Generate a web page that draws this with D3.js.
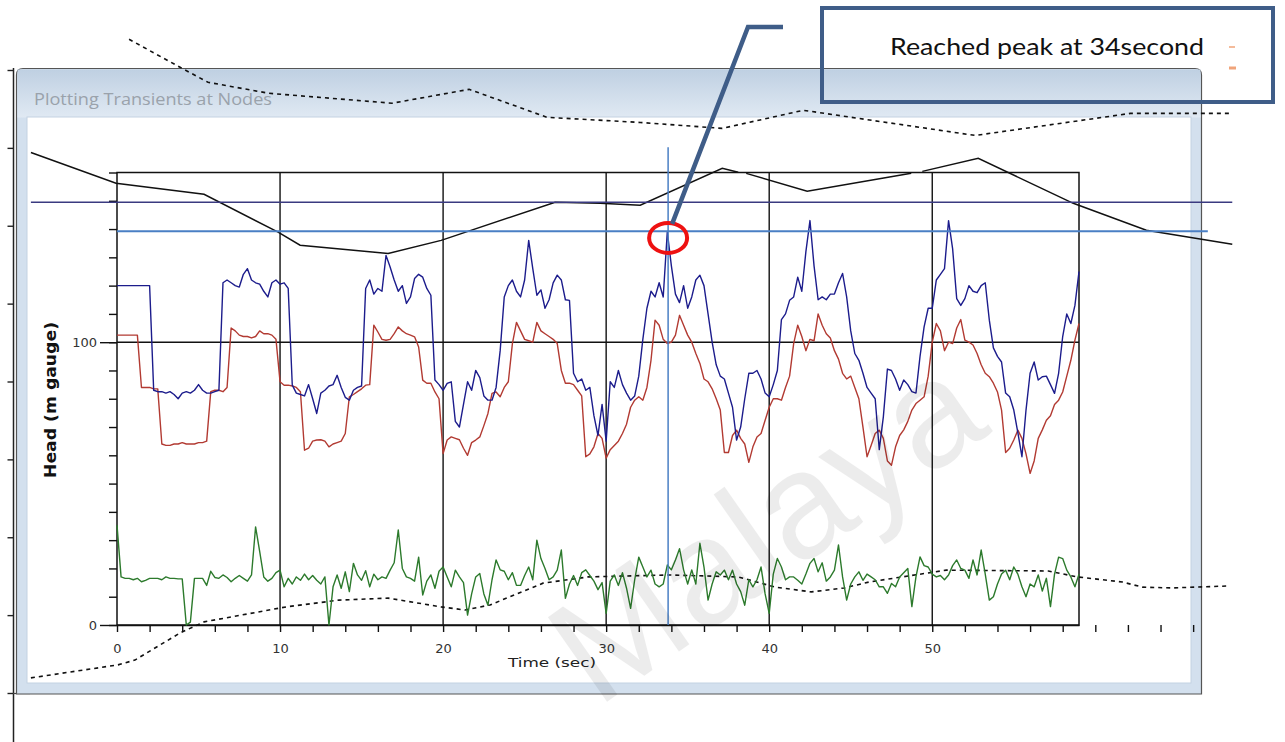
<!DOCTYPE html>
<html>
<head>
<meta charset="utf-8">
<script src="https://cdn.jsdelivr.net/npm/d3@7"></script>
<style>
  body { margin: 0; background: #ffffff; }
  svg { display: block; }
</style>
</head>
<body>
<svg id="chart" width="1285" height="742"></svg>
<script>
// ---- recorded heads (m gauge), one sample every 0.25 s from t = 0 ----
const sampleStep = 0.25;

const headBlue = [
  120,120,120,120, 120,120,120,120, 120,83,82.5,82.5, 82,82.5,81.5,80,
  82,82.5,82,83, 85,83,82,82, 82.5,83,121,122, 121,120,119.5,124,
  126,122,121,120.5, 118,116,121,122, 120.5,121,119,84.8, 82,81.5,81,85,
  80,74.8,82,83, 84.5,85,88.3,84, 80.5,79.5,83,84, 84.5,119,122,117,
  119,118,130.7,126.6, 122,118,120,113.7, 116,122.5,124,123, 119,116.6,86.6,85,
  83,85.4,86,72, 70,78,86,83, 90,87.5,81,79.5, 79.5,84,97,116,
  120,122,118,116, 122,136,126,116.6, 118.5,112,115,121, 123.7,122,115,114.8,
  89,86,87,83, 84,74,67,78, 65,86,84,90, 85,82,79.5,81,
  88,101,112,118, 116,121,116,139, 127,117,114,120, 112,116,122,123.7,
  120,110,100,92, 88,87,82,77, 65.4,70,80,89, 89,90,87,82,
  80.7,85,90,108, 110,114.8,116,123, 118,132,143,127, 115,116,115,117,
  117,121,124.3,116, 104,96,93.6,89, 84,82,80,62, 73.6,90.5,90,87,
  83,86.6,85,82.5, 82,95,105.4,112, 112,122,124,126, 143,133,115.4,113,
  115.4,120,118,117.5, 120,121,107.8,98, 95,93,82,80.7, 76,68,59.5,76,
  89,93,86.6,87.8, 88,85,81.9,89, 102,110,106.6,113, 125
];

const headRed = [
  102.5,102.5,102.5,102.5, 102.5,102.5,84,84, 84,83.5,83.5,64, 63.5,63.5,64,64,
  64.5,64,64,64, 64.5,64.5,65,82.5, 83,83,82.5,84, 105,104,102.5,102,
  102,101.5,102,104, 103,103,102.5,101, 86,84.8,84.8,84.5, 84,82.5,61.8,62.5,
  65,65.4,65.5,65, 63,64,64.5,65, 67.7,80.7,81.5,82.5, 83.5,84.8,85,106,
  103.6,101,100.7,101, 103,105.4,104,103, 102.5,101.9,98.3,86.6, 85.5,85.5,82.4,80,
  60.6,65.4,66.5,66, 65.5,62.5,60,64.5, 65.4,66.5,70.5,74.8, 81.9,82.4,80.7,84,
  86,99.5,107,104, 101,100.5,100,107, 104,103,102,101, 99.5,90,85.5,85.5,
  85,83,81,59.5, 60.5,63,67.7,66, 59,62,63.5,65, 67.7,71,77,79.5,
  80.7,79.5,84,93.6, 107.8,106,101,99.5, 100,102.5,109.5,106, 102.5,100,96,92.5,
  87,86,83.5,80, 76,61,61,67, 68.9,66,64,57.5, 63,66.5,67.7,72.4,
  77,80,80,79.5, 84,88,99.5,106, 102,97,101,100.5, 110,106,103,101.5,
  97,94,89,87, 88,84,80,70, 59.5,63.5,67.7,68.9, 66,58,56.5,63,
  67,69,72,76, 78.3,79.5,80.7,88, 100,106.6,104,97, 100,99.5,105,108,
  100.7,100,99,96, 92,89,87.8,85.5, 82.4,76,61,62.5, 65.4,68.9,66,60.5,
  53.6,58,66,69, 72.4,74,78,79.5, 82.4,88,93.6,100.7, 106.6
];

const headGreen = [
  35.3,17,16.5,16.5, 16,16.5,15.3,15.8, 16.5,16.5,16.5,16, 17,16.5,16.5,16.3,
  16.3,0,1,16.5, 16.5,16.5,14,19, 16.8,16.5,17.7,16.8, 15.3,16.5,17.5,16.5,
  15.5,17.7,34.7,26, 17,15.5,16.5,18.5, 19.4,13.5,16.5,14.5, 17,15.8,18,16,
  17.5,15.8,14.5,17, 0,13.5,17.7,13, 18.8,11.8,21.8,17.7, 15.8,19.2,13.5,18,
  16,17,16.5,19.4, 22,33.6,20,17, 16.5,15.5,24,10.6, 15.5,17.7,13,19,
  20.5,17,13.5,19.4, 17,15,3.5,11, 17,18.2,11,7, 16,23,19.5,19,
  16,18.5,14,14, 17.5,20.5,16,30, 23.5,20,16,17, 19.4,26.5,9.4,14.5,
  17.5,14,18.5,19.5, 17.5,15.5,12.5,15, 4.1,15.5,17.7,14, 18.5,13,5.9,16,
  24,20.5,17,19.4, 14.5,13.5,14.5,21.2, 19.5,23,27,19.5, 14.5,19.5,14.5,28.9,
  20.5,8.8,14.5,18.8, 17.7,19.4,16,19.4, 14.5,11.8,7,16, 13.5,16,20.5,11,
  4.1,18,23.5,20.5, 16,17,17,15.8, 14.5,18,21.8,23.5, 18.8,22,15.5,17,
  19.4,28.3,17,8.8, 14.5,17,18.8,15.8, 18,17,16,13.5, 13.5,11.2,14.7,13.5,
  17,18.5,20,6.5, 17,24.1,21,20.5, 18,17,17.5,16, 17.7,21,23,20,
  19.4,16.5,23,17.7, 26.5,18,8.8,10, 14.5,18,19.4,16, 20.5,18,13.5,10,
  14.5,13.5,17.7,12, 16.5,6.5,18,24, 23.5,19.4,17,13.5, 18
];

// ---- axis ticks and labels ----
const xTickValues = d3.range(0, 67, 2);
const xTickLabels = [0, 10, 20, 30, 40, 50];
const yMinorTicks = d3.range(0, 161, 10);
const yTickLabels = [0, 100];

// ---- background traces from the neighbouring window, in (s, m) ----
const traceSolid = [
  [-5.28,167.1],[-0.06,156.2],[5.34,152.3],[9.88,138.9],[11.23,134.3],[16.63,131.4],
  [19.88,136.0],[26.87,149.5],[29.63,149.1],[32.09,148.4],[37.12,161.5],[38.1,160.1],
  null,
  [38.59,159.7],[42.33,153.4],[48.71,159.7],
  null,
  [49.39,160.4],[52.82,165.0],[58.65,149.1],[63.13,139.6],[68.4,134.6]
];
const traceDashUpper = [
  [0.74,207.1],[3.87,197.2],[5.58,191.9],[9.33,188.0],[16.87,184.5],[21.6,189.4],
  [26.38,179.5],[32.09,177.7],[37.12,175.6],[42.09,182.0],[52.64,173.1],[62.15,180.9],[68.4,180.9]
];
const traceDashLower = [
  [-5.28,-18.7],[0.06,-14.1],[1.1,-12.4],[3.87,-2.8],[5.34,1.1],[10.37,6.4],[13.62,8.8],
  [16.63,9.5],[19.88,6.4],[21.35,5.3],[22.88,7.1],[26.13,14.8],[28.9,17.0],[33.87,17.7],
  [38.1,17.0],[40.37,13.4],[42.58,11.7],[44.6,13.1],[46.13,15.2],[50.86,19.4],[57.12,19.1],
  [58.9,17.0],[61.66,15.2],[62.88,13.4],[64.66,13.1],[68.16,13.8]
];
const levelNavy = 149.5;      // upper reference level
const levelPeak = 139.2;      // peak head marker level
const peakTime = 33.8;        // time of the marked peak (s)
const peakHead = 139;

const svg = d3.select("#chart");

// plot scales
const x = d3.scaleLinear().domain([0, 59]).range([117, 1079]);
const y = d3.scaleLinear().domain([0, 160]).range([625, 172.5]);

// ---- stray axis along the left edge ----
const edge = svg.append("g");
edge.append("line").attr("x1", 13.5).attr("x2", 13.5).attr("y1", 68).attr("y2", 742)
  .attr("stroke", "#222").attr("stroke-width", 1.5);
const edgeScale = d3.scaleLinear().domain([0, 8]).range([693, 70]);
edge.append("g").attr("transform", "translate(13.5,0)")
  .call(d3.axisLeft(edgeScale).tickValues(d3.range(0, 9)).tickSize(6).tickSizeOuter(0).tickFormat(""))
  .call(g => g.select(".domain").remove())
  .call(g => g.selectAll("line").attr("stroke", "#222").attr("stroke-width", 1.4));
edge.append("line").attr("x1", 13).attr("x2", 30).attr("y1", 693.5).attr("y2", 693.5)
  .attr("stroke", "#444").attr("stroke-width", 1.2);

// ---- window frame ----
const defs = svg.append("defs");
const grad = defs.append("linearGradient").attr("id", "titleGrad")
  .attr("x1", 0).attr("y1", 0).attr("x2", 0).attr("y2", 1);
grad.append("stop").attr("offset", "0%").attr("stop-color", "#bfd0e2");
grad.append("stop").attr("offset", "100%").attr("stop-color", "#e0e9f3");

const frame = svg.append("g");
frame.append("path")
  .attr("d", "M16.5,694 L16.5,75 Q16.5,68.5 23,68.5 L1195,68.5 Q1201.5,68.5 1201.5,75 L1201.5,694 Z")
  .attr("fill", "#d3e0ee").attr("stroke", "#555").attr("stroke-width", 1.2);
frame.append("rect").attr("x", 17.5).attr("y", 69.5).attr("width", 1183).attr("height", 48)
  .attr("fill", "url(#titleGrad)");
frame.append("rect").attr("x", 27).attr("y", 117).attr("width", 1164).attr("height", 566)
  .attr("fill", "#ffffff").attr("stroke", "#c3d2e2").attr("stroke-width", 1);
frame.append("text").attr("x", 34).attr("y", 105)
  .attr("font-family", "'Open Sans', sans-serif").attr("font-size", 16.5)
  .attr("fill", "#9aa2ab").attr("textLength", 238).attr("lengthAdjust", "spacingAndGlyphs")
  .text("Plotting Transients at Nodes");

// ---- plot box and grid ----
const plot = svg.append("g");
plot.append("rect")
  .attr("x", x(0)).attr("y", y(160)).attr("width", x(59) - x(0)).attr("height", y(0) - y(160))
  .attr("fill", "none").attr("stroke", "#111").attr("stroke-width", 1.5);
plot.append("g").selectAll("line").data([10, 20, 30, 40, 50]).join("line")
  .attr("x1", d => x(d)).attr("x2", d => x(d)).attr("y1", y(0)).attr("y2", y(160))
  .attr("stroke", "#111").attr("stroke-width", 1.4);
plot.append("line").attr("x1", x(0)).attr("x2", x(59)).attr("y1", y(100)).attr("y2", y(100))
  .attr("stroke", "#111").attr("stroke-width", 1.4);

// x axis
plot.append("g").attr("transform", `translate(0,${y(0)})`)
  .call(d3.axisBottom(x).tickValues(xTickValues).tickSize(7).tickSizeOuter(0).tickPadding(12)
    .tickFormat(d => xTickLabels.includes(d) ? d : ""))
  .call(g => g.select(".domain").attr("stroke", "#111").attr("stroke-width", 1.5))
  .call(g => g.selectAll(".tick line").attr("stroke", "#111").attr("stroke-width", 1.4))
  .call(g => g.selectAll("text").attr("font-family", "'DejaVu Sans', sans-serif")
    .attr("font-size", 13).attr("fill", "#333"));

// y axis: minor ticks, then labelled ticks
plot.append("g").attr("transform", `translate(${x(0)},0)`)
  .call(d3.axisLeft(y).tickValues(yMinorTicks).tickSize(8).tickSizeOuter(0).tickFormat(""))
  .call(g => g.select(".domain").remove())
  .call(g => g.selectAll(".tick line").attr("stroke", "#111").attr("stroke-width", 1.4));
plot.append("g").attr("transform", `translate(${x(0)},0)`)
  .call(d3.axisLeft(y).tickValues(yTickLabels).tickSize(17).tickSizeOuter(0).tickPadding(3))
  .call(g => g.select(".domain").remove())
  .call(g => g.selectAll(".tick line").attr("stroke", "#111").attr("stroke-width", 1.4))
  .call(g => g.selectAll("text").attr("font-family", "'DejaVu Sans', sans-serif")
    .attr("font-size", 13).attr("fill", "#333"));

plot.append("text").attr("x", 552).attr("y", 667).attr("text-anchor", "middle")
  .attr("font-family", "'DejaVu Sans', sans-serif").attr("font-size", 13).attr("fill", "#222")
  .attr("textLength", 88).attr("lengthAdjust", "spacingAndGlyphs")
  .text("Time (sec)");
plot.append("text").attr("transform", "translate(56,400) rotate(-90)").attr("text-anchor", "middle")
  .attr("font-family", "'DejaVu Sans', sans-serif").attr("font-weight", "bold").attr("font-size", 16)
  .attr("fill", "#111").attr("textLength", 156).attr("lengthAdjust", "spacingAndGlyphs")
  .text("Head (m gauge)");

// ---- background traces ----
const traceLine = d3.line().defined(d => d !== null).x(d => x(d[0])).y(d => y(d[1]));
const traces = svg.append("g").attr("fill", "none");
traces.append("path").attr("d", traceLine(traceDashUpper))
  .attr("stroke", "#111").attr("stroke-width", 1.6).attr("stroke-dasharray", "4,4");
traces.append("path").attr("d", traceLine(traceDashLower))
  .attr("stroke", "#111").attr("stroke-width", 1.6).attr("stroke-dasharray", "4,4");
traces.append("path").attr("d", traceLine(traceSolid))
  .attr("stroke", "#111").attr("stroke-width", 1.5);
traces.append("line").attr("x1", x(-5.28)).attr("x2", x(68.4)).attr("y1", y(levelNavy)).attr("y2", y(levelNavy))
  .attr("stroke", "#3a3a80").attr("stroke-width", 1.5);

// ---- head series ----
const seriesLine = d3.line().x((d, i) => x(i * sampleStep)).y(d => y(d));
const series = svg.append("g").attr("fill", "none").attr("stroke-width", 1.4).attr("stroke-linejoin", "round");
series.append("path").attr("d", seriesLine(headGreen)).attr("stroke", "#2c7a2c");
series.append("path").attr("d", seriesLine(headRed)).attr("stroke", "#b23a32");
series.append("path").attr("d", seriesLine(headBlue)).attr("stroke", "#1c1c8c");

// ---- peak markers ----
const marks = svg.append("g");
marks.append("line").attr("x1", x(0)).attr("x2", x(66.9)).attr("y1", y(levelPeak)).attr("y2", y(levelPeak))
  .attr("stroke", "#4a7fc4").attr("stroke-width", 2);
marks.append("line").attr("x1", x(peakTime)).attr("x2", x(peakTime)).attr("y1", y(0)).attr("y2", y(168.9))
  .attr("stroke", "#4a7fc4").attr("stroke-width", 1.5);

// ---- watermark ----
svg.append("text").attr("transform", "translate(795,570) rotate(-35)").attr("text-anchor", "middle")
  .attr("font-family", "'Liberation Sans', Arial, sans-serif").attr("font-size", 150)
  .attr("fill", "#000").attr("opacity", 0.07).text("Malaya");

// ---- callout ----
const cx = x(peakTime), cy = y(peakHead) + 6;
const callout = svg.append("g");
callout.append("ellipse").attr("cx", cx).attr("cy", cy).attr("rx", 19).attr("ry", 15)
  .attr("fill", "none").attr("stroke", "#ee1111").attr("stroke-width", 4);
callout.append("path").attr("d", `M${cx + 4},${cy - 14} L748,27 L783,27`)
  .attr("fill", "none").attr("stroke", "#3f5d88").attr("stroke-width", 4.5);
callout.append("rect").attr("x", 822).attr("y", 8).attr("width", 451).attr("height", 94)
  .attr("fill", "none").attr("stroke", "#3f5d88").attr("stroke-width", 4);
callout.append("text").attr("x", 890).attr("y", 55)
  .attr("font-family", "Lato, 'Open Sans', sans-serif").attr("font-size", 24).attr("fill", "#111")
  .attr("textLength", 314).attr("lengthAdjust", "spacingAndGlyphs")
  .text("Reached peak at 34second");
callout.append("line").attr("x1", 1229).attr("x2", 1235).attr("y1", 47).attr("y2", 47)
  .attr("stroke", "#f0a47a").attr("stroke-width", 1.5);
callout.append("line").attr("x1", 1229).attr("x2", 1236).attr("y1", 68).attr("y2", 68)
  .attr("stroke", "#f0a47a").attr("stroke-width", 3);
</script>
</body>
</html>
